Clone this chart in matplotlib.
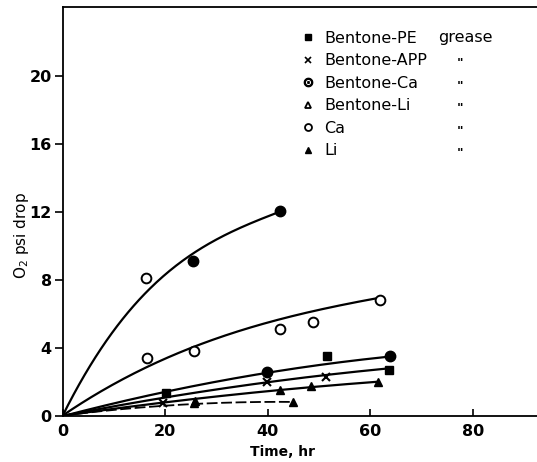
import numpy as np
import matplotlib
matplotlib.use("Agg")
from matplotlib import pyplot as plt
from matplotlib.lines import Line2D

# observed points (time in hr, O2 psi drop)
pe_x = [20.1, 51.6, 63.6]
pe_y = [1.3, 3.5, 2.7]
app_x = [39.8, 51.4, 19.5]
app_y = [2.0, 2.3, 0.75]
bca_x = [25.4, 42.4, 39.8, 63.9]
bca_y = [9.1, 12.05, 2.55, 3.5]
bli_x = [42.4, 48.5, 61.5, 25.5]
bli_y = [1.5, 1.75, 2.0, 0.75]
ca_x = [16.3, 16.5, 25.6, 42.4, 48.9, 61.9]
ca_y = [8.1, 3.4, 3.8, 5.1, 5.5, 6.8]
li_x = [44.9, 25.7]
li_y = [0.8, 0.85]

# smooth curves
curve_top_x = [0, 7.2, 16.3, 25.4, 33.2, 42.3]
curve_top_y = [0, 3.85, 7.3, 9.47, 10.95, 12.0]
curve_ca_x = [0, 16.3, 25.4, 42.3, 56, 61.8]
curve_ca_y = [0, 2.86, 4.04, 5.62, 6.7, 6.9]
curve_a_x = [0, 20, 40, 46.2, 56, 64]
curve_a_y = [0, 1.3, 2.55, 2.9, 3.2, 3.45]
curve_b_x = [0, 20, 40, 46.2, 56, 63.6]
curve_b_y = [0, 1.0, 1.97, 2.27, 2.55, 2.75]
curve_c_x = [0, 20, 42.4, 48.5, 56, 61.5]
curve_c_y = [0, 0.75, 1.5, 1.72, 1.87, 1.97]
curve_d_x = [0, 15, 25.7, 35, 44.9]
curve_d_y = [0, 0.45, 0.7, 0.78, 0.8]

legend_labels = ["Bentone-PE", "Bentone-APP", "Bentone-Ca", "Bentone-Li", "Ca", "Li"]

fig = plt.figure(figsize=(5.37, 4.62), dpi=100)
ax = fig.add_axes([0.117, 0.1006, 0.883, 0.8844])

def smooth(x, y, deg=3, ls="-", lw=1.6):
    p = np.polyfit(x, y, deg)
    xs = np.linspace(0, max(x), 200)
    ax.plot(xs, np.polyval(p, xs), color="black", lw=lw, ls=ls)

smooth(curve_top_x, curve_top_y)
smooth(curve_ca_x, curve_ca_y)
smooth(curve_a_x, curve_a_y, 2)
smooth(curve_b_x, curve_b_y, 2)
smooth(curve_c_x, curve_c_y, 2)
smooth(curve_d_x, curve_d_y, 2, ls=(0, (6, 2)), lw=1.3)

ax.plot(pe_x, pe_y, "s", color="black", ms=6, ls="none")
ax.plot(app_x, app_y, "x", color="black", ms=6, mew=1.5, ls="none")
ax.plot(bca_x, bca_y, "o", mfc="black", mec="black", ms=7.5, ls="none")
ax.plot(bli_x, bli_y, "^", mfc="black", mec="black", ms=6, ls="none")
ax.plot(ca_x, ca_y, "o", mfc="white", mec="black", mew=1.4, ms=7, ls="none")
ax.plot(li_x, li_y, "^", color="black", ms=6, ls="none")

handles = [
    Line2D([], [], marker="s", color="black", ls="none", ms=5),
    Line2D([], [], marker="x", color="black", ls="none", ms=5, mew=1.2),
    Line2D([], [], marker="$\\odot$", color="black", ls="none", ms=6),
    Line2D([], [], marker="^", mfc="white", mec="black", mew=1.3, ls="none", ms=5),
    Line2D([], [], marker="o", mfc="white", mec="black", mew=1.3, ls="none", ms=5),
    Line2D([], [], marker="^", color="black", ls="none", ms=5),
]
ax.legend(handles, legend_labels, loc="upper left", bbox_to_anchor=(0.48, 0.969),
          frameon=False, fontsize=11.5, handlelength=0.8, handletextpad=0.6,
          labelspacing=0.47, borderpad=0.2)

ax.text(0.791, 0.925, "grease", transform=ax.transAxes, fontsize=11.5,
        ha="left", va="center")
for i in range(1, 6):
    ax.text(0.8376, 0.917 - i * 0.0553, '"', transform=ax.transAxes,
            fontsize=9, fontweight="bold", ha="center", va="center")

ax.set_xlim(0, 92.5)
ax.set_ylim(0, 24.1)
ax.set_xticks([0, 20, 40, 60, 80])
ax.set_yticks([0, 4, 8, 12, 16, 20])
ax.tick_params(axis="x", direction="in", length=5, width=1.2, pad=6, labelsize=11.5)
ax.tick_params(axis="y", direction="out", length=6, width=1.2, pad=2, labelsize=11.5)
for lab in ax.get_xticklabels() + ax.get_yticklabels():
    lab.set_fontweight("bold")

ax.spines["right"].set_visible(False)
for s in ["left", "bottom", "top"]:
    ax.spines[s].set_linewidth(1.3)

ax.set_xlabel("Time, hr", fontsize=10, fontweight="bold")
ax.xaxis.set_label_coords(0.464, -0.072)
ax.set_ylabel("O$_2$ psi drop", fontsize=11)
ax.yaxis.set_label_coords(-0.068, 0.44)

fig.savefig("out.png", dpi=100)
